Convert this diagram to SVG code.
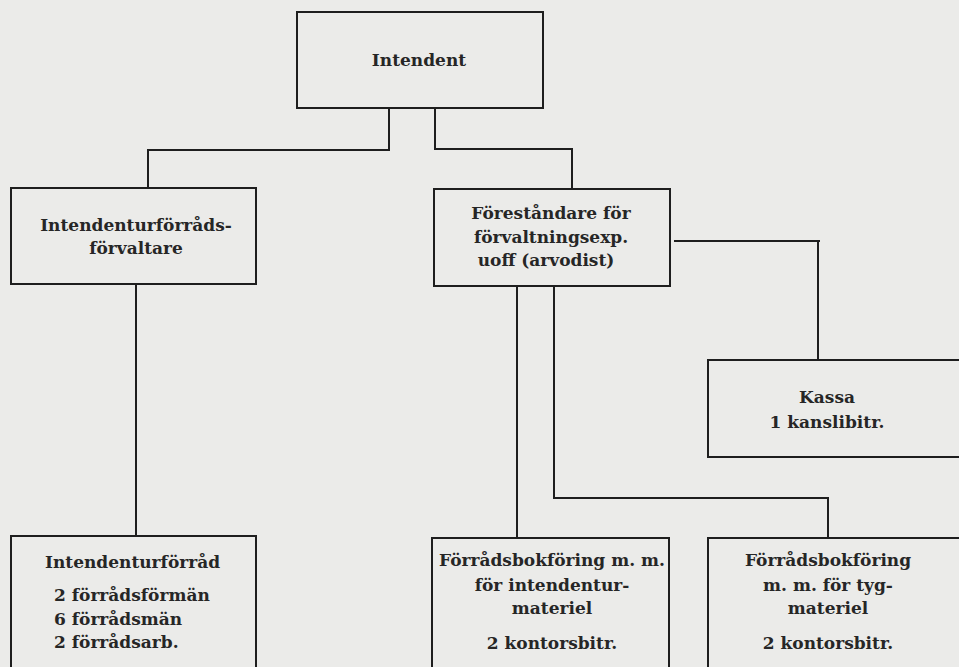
<svg xmlns="http://www.w3.org/2000/svg" width="959" height="667" viewBox="0 0 959 667">
<style>
.bg{fill:#ebebe9}
.box{fill:none;stroke:#1e1e1e;stroke-width:2}
.con{fill:none;stroke:#1e1e1e;stroke-width:2}
text{font-family:"DejaVu Serif","Liberation Serif",serif;font-weight:bold;font-size:17px;fill:#262626;text-anchor:middle}
.l{text-anchor:start}
</style>
<rect class="bg" x="0" y="0" width="959" height="667"/>
<g id="connectors">
<path class="con" d="M389,109 V150 H148 V187"/>
<path class="con" d="M435,109 V149 H572 V188"/>
<path class="con" d="M136,285 V535"/>
<path class="con" d="M674,241 H820 M818,241 V359"/>
<path class="con" d="M517,287 V537"/>
<path class="con" d="M554,287 V498 H828 V537"/>
</g>
<g id="intendent">
<rect class="box" x="297" y="12" width="246" height="96"/>
<text x="419" y="66">Intendent</text>
</g>
<g id="forvaltare">
<rect class="box" x="11" y="188" width="245" height="96"/>
<text x="136" y="231">Intendenturförråds-</text>
<text x="136" y="254">förvaltare</text>
</g>
<g id="forestandare">
<rect class="box" x="434" y="189" width="236" height="97"/>
<text x="551" y="219">Föreståndare för</text>
<text x="551" y="243">förvaltningsexp.</text>
<text x="546" y="266">uoff (arvodist)</text>
</g>
<g id="kassa">
<rect class="box" x="708" y="360" width="270" height="97"/>
<text x="827" y="403">Kassa</text>
<text x="827" y="428">1 kanslibitr.</text>
</g>
<g id="forrad">
<rect class="box" x="11" y="536" width="245" height="150"/>
<text class="l" x="45" y="568">Intendenturförråd</text>
<text class="l" x="54" y="601">2 förrådsförmän</text>
<text class="l" x="54" y="625">6 förrådsmän</text>
<text class="l" x="54" y="648">2 förrådsarb.</text>
</g>
<g id="bokforing-intendentur">
<rect class="box" x="432" y="538" width="237" height="150"/>
<text x="552" y="566">Förrådsbokföring m. m.</text>
<text x="552" y="591">för intendentur-</text>
<text x="552" y="614">materiel</text>
<text x="552" y="649">2 kontorsbitr.</text>
</g>
<g id="bokforing-tyg">
<rect class="box" x="708" y="538" width="270" height="150"/>
<text x="828" y="566">Förrådsbokföring</text>
<text x="828" y="591">m. m. för tyg-</text>
<text x="828" y="614">materiel</text>
<text x="828" y="649">2 kontorsbitr.</text>
</g>
</svg>
